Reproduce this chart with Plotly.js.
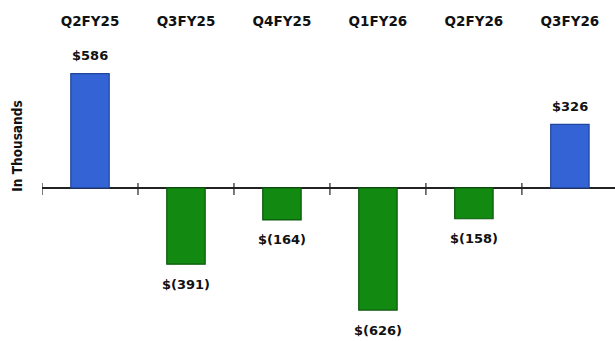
<!DOCTYPE html>
<html>
<head>
<meta charset="utf-8">
<script src="https://cdn.plot.ly/plotly-3.0.1.min.js"></script>
<style>
  html, body { margin: 0; padding: 0; background: #fff; }
  #chart { width: 615px; height: 341px; }
</style>
</head>
<body>
<div id="chart"></div>
<script>
// Quarterly net result, in thousands of dollars
const quarters = ['Q2FY25', 'Q3FY25', 'Q4FY25', 'Q1FY26', 'Q2FY26', 'Q3FY26'];
const values = [586, -391, -164, -626, -158, 326];

const POS_FILL = '#3363d4', POS_EDGE = '#21459a';
const NEG_FILL = '#128a12', NEG_EDGE = '#0a580a';

function money(v) {
  return v < 0 ? '$(' + Math.abs(v) + ')' : '$' + v;
}

const bars = {
  type: 'bar',
  x: quarters,
  y: values,
  width: 0.4,
  marker: {
    color: values.map(v => v < 0 ? NEG_FILL : POS_FILL),
    line: { color: values.map(v => v < 0 ? NEG_EDGE : POS_EDGE), width: 1.2 }
  },
  hoverinfo: 'skip'
};

const labelFont = { family: 'DejaVu Sans', size: 13, color: '#111', weight: 'bold' };

const valueLabels = quarters.map((q, i) => ({
  x: q, y: values[i], xref: 'x', yref: 'y',
  text: money(values[i]),
  showarrow: false,
  yanchor: 'middle',
  yshift: values[i] < 0 ? -20 : 18,
  font: labelFont
}));

const axisTitle = {
  xref: 'paper', yref: 'paper', x: -0.044, y: 0.62,
  text: 'In Thousands', textangle: -90, showarrow: false,
  xanchor: 'center', yanchor: 'middle',
  font: { family: 'DejaVu Sans Condensed, DejaVu Sans', size: 13.5, color: '#111', weight: 'bold' }
};

// tick marks crossing the zero line at each category boundary
const boundaryTicks = [];
for (let i = 0; i <= quarters.length; i++) {
  boundaryTicks.push({
    type: 'line', xref: 'x', yref: 'y',
    x0: i - 0.5, x1: i - 0.5,
    ysizemode: 'pixel', yanchor: 0, y0: -7, y1: 5,
    line: { color: '#222', width: 1.2 }
  });
}

const layout = {
  width: 615, height: 341,
  margin: { l: 42, r: 0, t: 30, b: 6 },
  paper_bgcolor: '#fff', plot_bgcolor: '#fff',
  showlegend: false,
  bargap: 0.6,
  xaxis: {
    type: 'category',
    side: 'top',
    range: [-0.5, 5.47],
    showline: false, showgrid: false, zeroline: false,
    ticks: '',
    tickfont: { family: 'DejaVu Sans', size: 13.5, color: '#111', weight: 'bold' },
    fixedrange: true
  },
  yaxis: {
    range: [-754, 810],
    showgrid: false, showticklabels: false, ticks: '',
    zeroline: true, zerolinecolor: '#222', zerolinewidth: 1.3,
    fixedrange: true
  },
  annotations: valueLabels.concat([axisTitle]),
  shapes: boundaryTicks
};

Plotly.newPlot('chart', [bars], layout, { displayModeBar: false, staticPlot: true });
</script>
</body>
</html>
